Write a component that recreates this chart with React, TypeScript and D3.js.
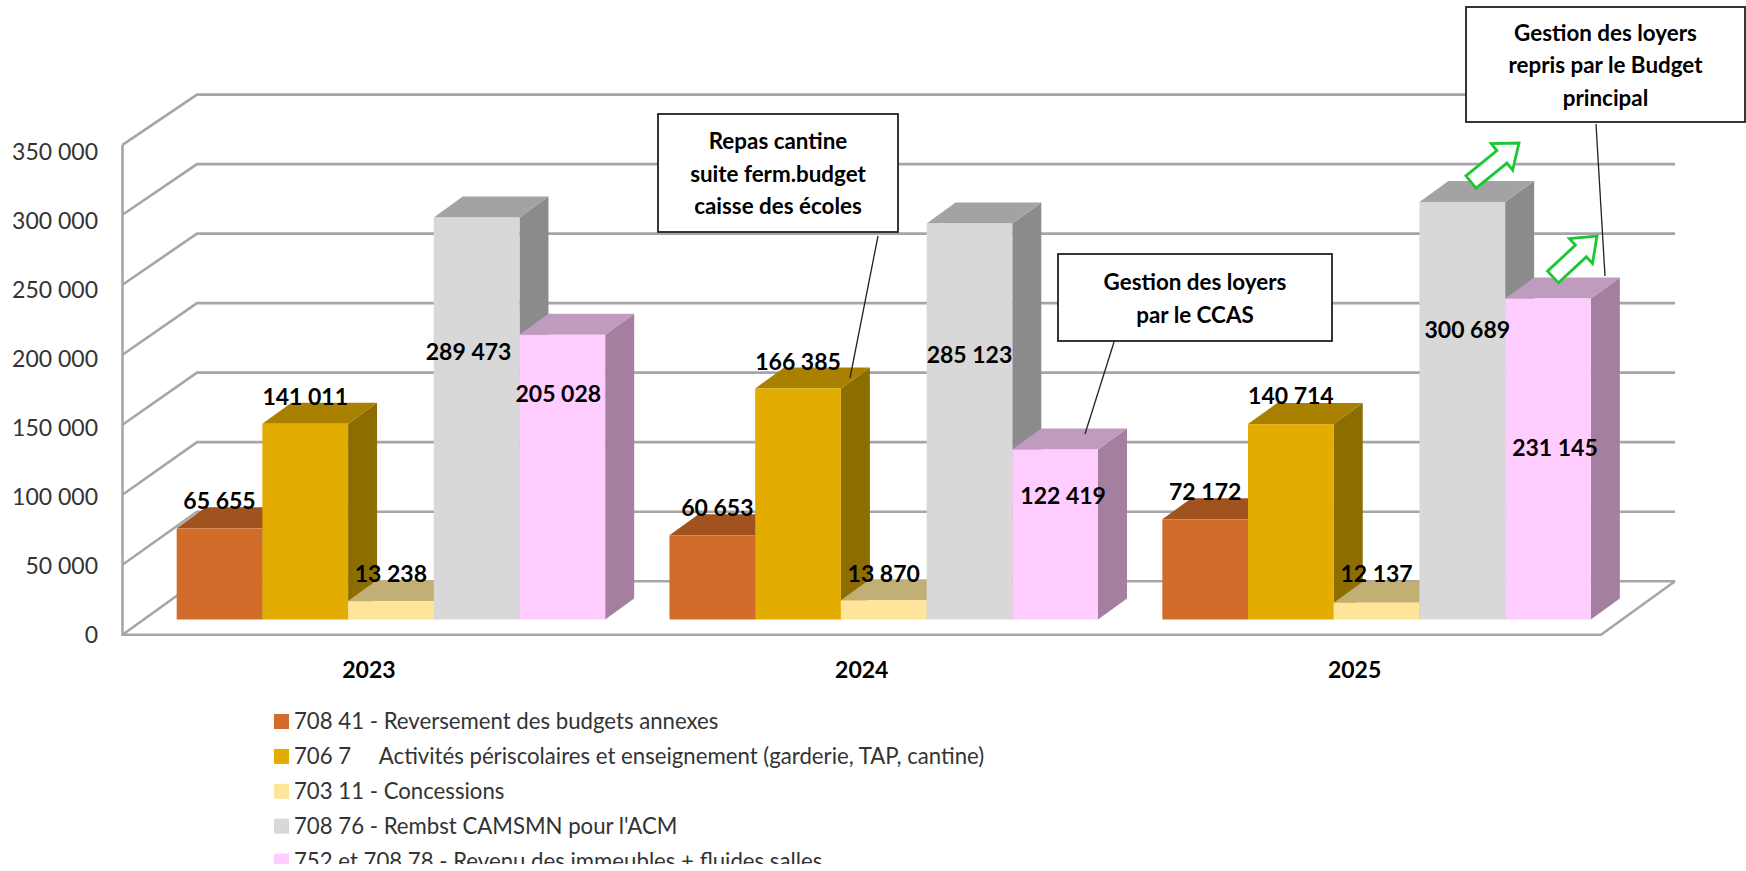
import React from "react";
import * as d3 from "d3";

const years = ["2023", "2024", "2025"];
const seriesNames = [
  "708 41 - Reversement des budgets annexes",
  "706 7     Activités périscolaires et enseignement (garderie, TAP, cantine)",
  "703 11 - Concessions",
  "708 76 - Rembst CAMSMN pour l'ACM",
  "752 et 708 78 - Revenu des immeubles + fluides salles",
];
const reversement = [65655, 60653, 72172];
const periscolaire = [141011, 166385, 140714];
const concessions = [13238, 13870, 12137];
const rembst = [289473, 285123, 300689];
const immeubles = [205028, 122419, 231145];
const allSeries = [reversement, periscolaire, concessions, rembst, immeubles];
const yTicks = [0, 50000, 100000, 150000, 200000, 250000, 300000, 350000];

const frontColors = ["#D26C2B", "#E2AC00", "#FFE599", "#D8D8D8", "#FFCCFF"];
const topColors = ["#A0531F", "#AA8000", "#C2AF74", "#A3A3A3", "#C09BC0"];
const sideColors = ["#7E4119", "#8C6D00", "#A8975F", "#8B8B8B", "#A47FA0"];

// labels were moved by hand in the original, offsets from top centre of the bar
const labelNudges = [
  [[0, -27], [5, -27], [0, -27]],
  [[0, -27], [0, -27], [0, -28]],
  [[0, -27], [0, -26], [0, -29]],
  [[-8, 134], [0, 131], [5, 128]],
  [[-4, 59], [8, 46], [7, 149]],
];

const callouts = [
  { lines: ["Repas cantine", "suite ferm.budget", "caisse des écoles"], box: [658, 114, 240, 118], leader: [878, 236, 850, 378] },
  { lines: ["Gestion des loyers", "par le CCAS"], box: [1058, 254, 274, 87], leader: [1114, 342, 1085, 434] },
  { lines: ["Gestion des loyers", "repris par le Budget", "principal"], box: [1466, 7, 279, 115], leader: [1596, 124, 1605, 276] },
];
const arrows = [
  [1471, 182, 1519, 143],
  [1553, 277, 1597, 236],
];

const width = 1746;
const height = 871;
const font = "Lato, 'Open Sans', sans-serif";
const gridColor = "#A6A6A6";

const frontLeft = 122.5;
const frontRight = 1601;
const backLeft = 197;
const backRight = 1675;

const frontY = d3.scaleLinear().domain([0, 350000]).range([634.7, 144.8]);
const backY = d3.scaleLinear().domain([0, 350000]).range([581.2, 94.6]);
const barY = d3.scaleLinear().domain([0, 350000]).range([619.5, 133.5]);
const tickLabelY = d3.scaleLinear().domain([0, 350000]).range([634.5, 151.5]);
const xBand = d3.scaleBand().domain(years).range([frontLeft, frontRight]);
const barWidth = 85.7;
const barOffset = 22 + (xBand.bandwidth() - barWidth * 5) / 2;
const depthX = 29;
const depthY = 21;

const fmt = d3.formatLocale({ decimal: ",", thousands: " ", grouping: [3], currency: ["", " €"] }).format(",d");

const Arrow = ({ coords }: { coords: number[] }) => {
  const [x1, y1, x2, y2] = coords;
  const len = Math.hypot(x2 - x1, y2 - y1);
  const angle = (Math.atan2(y2 - y1, x2 - x1) * 180) / Math.PI;
  const headLen = 22;
  const shaft = 8;
  const head = 17;
  const d = d3.line()([
    [0, -shaft],
    [len - headLen, -shaft],
    [len - headLen, -head],
    [len, 0],
    [len - headLen, head],
    [len - headLen, shaft],
    [0, shaft],
  ]) + "Z";
  return (
    <path
      d={d}
      transform={`translate(${x1},${y1}) rotate(${angle})`}
      fill="#fff"
      stroke="#19C832"
      strokeWidth={2.8}
    />
  );
};

export default function App() {
  return (
    <svg
      width={width}
      height={height}
      viewBox={`0 0 ${width} ${height}`}
      style={{ position: "absolute", left: 0, top: 0, display: "block", background: "#fff" }}
      fontFamily={font}
    >
      <defs>
        <clipPath id="page-clip">
          <rect x={0} y={0} width={width} height={864} />
        </clipPath>
      </defs>

      {/* walls and floor */}
      {yTicks.map((t) => (
        <path
          key={t}
          d={`M${frontLeft},${frontY(t)}L${backLeft},${backY(t)}L${backRight},${backY(t)}`}
          fill="none"
          stroke={gridColor}
          strokeWidth={2.6}
        />
      ))}
      <path
        d={`M${frontLeft},${frontY(350000)}L${frontLeft},${frontY(0)}L${frontRight},${frontY(0)}L${backRight},${backY(0)}`}
        fill="none"
        stroke={gridColor}
        strokeWidth={2.6}
      />

      {yTicks.map((t) => (
        <text key={t} x={98} y={tickLabelY(t)} dy="0.35em" textAnchor="end" fontSize={23} fill="#333">
          {fmt(t)}
        </text>
      ))}

      {years.map((year) => (
        <text
          key={year}
          x={xBand(year)! + xBand.bandwidth() / 2}
          y={670}
          dy="0.35em"
          textAnchor="middle"
          fontSize={23}
          fontWeight="bold"
          fill="#000"
        >
          {year}
        </text>
      ))}

      {/* 3d bars */}
      {years.map((year, yi) =>
        allSeries.map((values, si) => {
          const x = xBand(year)! + barOffset + si * barWidth;
          const top = barY(values[yi]);
          const base = barY(0);
          return (
            <g key={`${year}-${si}`}>
              <path
                d={`M${x + barWidth},${base}L${x + barWidth + depthX},${base - depthY}L${x + barWidth + depthX},${top - depthY}L${x + barWidth},${top}Z`}
                fill={sideColors[si]}
              />
              <path
                d={`M${x},${top}L${x + depthX},${top - depthY}L${x + barWidth + depthX},${top - depthY}L${x + barWidth},${top}Z`}
                fill={topColors[si]}
              />
              <rect x={x} y={top} width={barWidth} height={base - top} fill={frontColors[si]} />
            </g>
          );
        })
      )}

      {years.map((year, yi) =>
        allSeries.map((values, si) => (
          <text
            key={`${year}-${si}`}
            x={xBand(year)! + barOffset + si * barWidth + barWidth / 2 + labelNudges[si][yi][0]}
            y={barY(values[yi]) + labelNudges[si][yi][1]}
            dy="0.35em"
            textAnchor="middle"
            fontSize={23}
            fontWeight="bold"
            fill="#000"
          >
            {fmt(values[yi])}
          </text>
        ))
      )}

      {/* callouts */}
      {callouts.map((c, i) => {
        const [bx, by, bw, bh] = c.box;
        const lineH = 32.5;
        const startY = by + bh / 2 - ((c.lines.length - 1) * lineH) / 2 + 1;
        return (
          <g key={i}>
            <line x1={c.leader[0]} y1={c.leader[1]} x2={c.leader[2]} y2={c.leader[3]} stroke="#222" strokeWidth={1.3} />
            <rect x={bx} y={by} width={bw} height={bh} fill="#fff" stroke="#222" strokeWidth={1.8} />
            {c.lines.map((line, li) => (
              <text
                key={li}
                x={bx + bw / 2}
                y={startY + li * lineH}
                dy="0.35em"
                textAnchor="middle"
                fontSize={22.4}
                fontWeight="bold"
                fill="#000"
              >
                {line}
              </text>
            ))}
          </g>
        );
      })}

      {arrows.map((a, i) => (
        <Arrow key={i} coords={a} />
      ))}

      {/* legend, bottom row is cut off in the original */}
      <g clipPath="url(#page-clip)">
        {seriesNames.map((name, i) => (
          <g key={name} transform={`translate(274,${721.5 + i * 34.9})`}>
            <rect x={0} y={-7.5} width={15} height={15} fill={frontColors[i]} />
            <text x={20} y={0} dy="0.35em" fontSize={22.2} fill="#333" xmlSpace="preserve" style={{ whiteSpace: "pre" }}>
              {name}
            </text>
          </g>
        ))}
      </g>
    </svg>
  );
}
